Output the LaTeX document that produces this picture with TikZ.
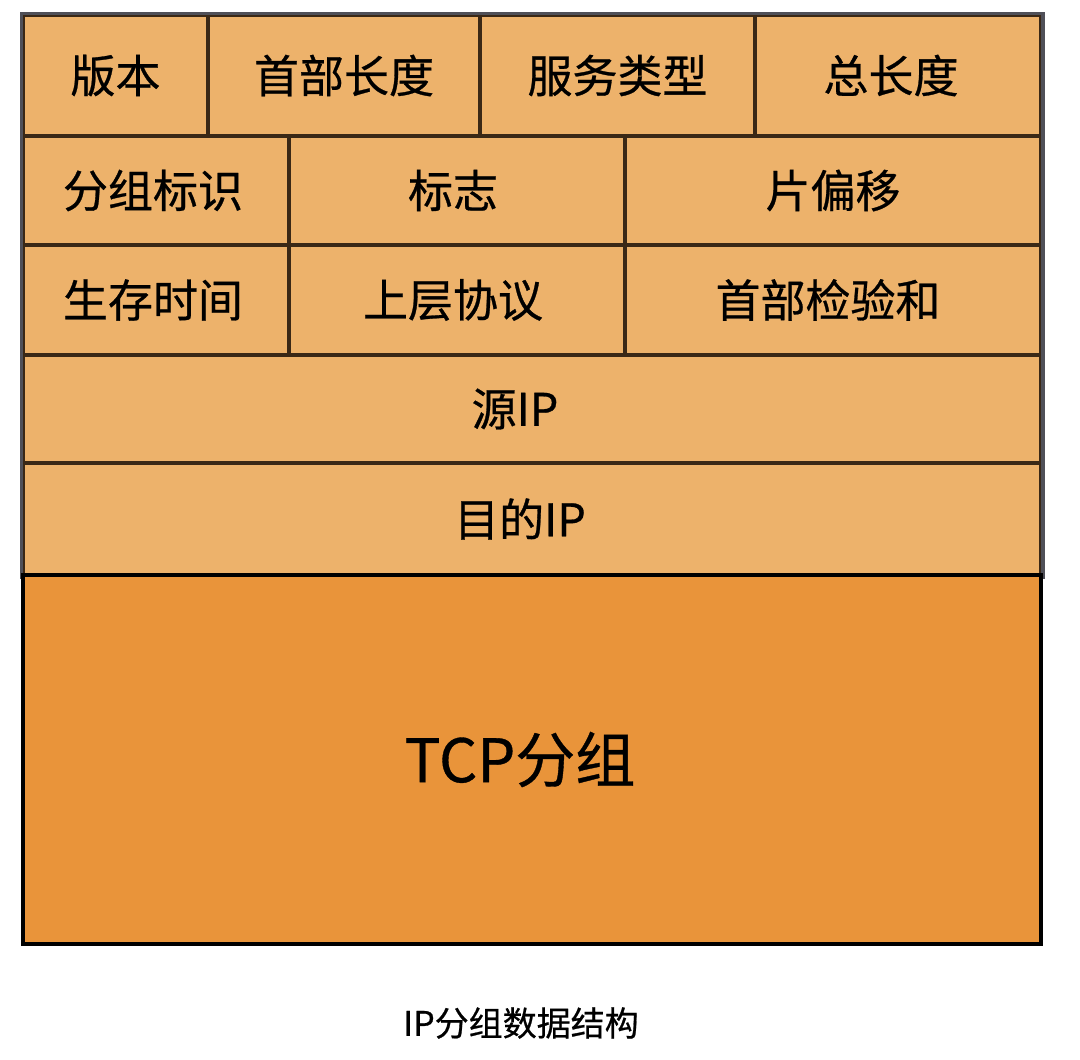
\documentclass[tikz,border=0pt]{standalone}
\usepackage{fontspec}
\setmainfont[FakeBold=0.6]{Noto Sans CJK SC}
\definecolor{hdr}{RGB}{237,178,107}
\definecolor{tcpc}{RGB}{233,148,58}
\definecolor{linec}{RGB}{58,40,22}
\definecolor{outerc}{RGB}{80,80,88}
\newcommand{\shiftl}[2]{\hspace*{-#1pt}#2}
\begin{document}
\begin{tikzpicture}[x=1pt,y=-1pt,
  cell/.style={draw=linec,line width=3.5pt,fill=hdr,inner sep=0pt,
    font=\fontsize{45}{50}\selectfont,text=black},
  tcpbox/.style={draw=black,line width=4pt,fill=tcpc,inner sep=0pt,
    font=\fontsize{60}{66}\selectfont,text=black},
  caption/.style={inner sep=0pt,font=\fontsize{34}{40}\selectfont,text=black}]
\useasboundingbox (0,0) rectangle (1080,1060);
% row 1
\node[cell,minimum width=185pt,minimum height=121pt] (ver) at (115.5,75.5) {版本};
\node[cell,minimum width=272pt,minimum height=121pt] (hlen) at (344,75.5) {首部长度};
\node[cell,minimum width=275pt,minimum height=121pt] (tos) at (617.5,75.5) {服务类型};
\node[cell,minimum width=286pt,minimum height=121pt] (tlen) at (898,75.5) {\shiftl{14}{总长度}};
% row 2
\node[cell,minimum width=266pt,minimum height=109pt] (id) at (156,190.5) {\shiftl{6}{分组标识}};
\node[cell,minimum width=336pt,minimum height=109pt] (flag) at (457,190.5) {\shiftl{8}{标志}};
\node[cell,minimum width=416pt,minimum height=109pt] (frag) at (833,190.5) {片偏移};
% row 3
\node[cell,minimum width=266pt,minimum height=110pt] (ttl) at (156,300) {\shiftl{6}{生存时间}};
\node[cell,minimum width=336pt,minimum height=110pt] (proto) at (457,300) {\shiftl{8}{上层协议}};
\node[cell,minimum width=416pt,minimum height=110pt] (csum) at (833,300) {\shiftl{10}{首部检验和}};
% rows 4,5
\node[cell,minimum width=1018pt,minimum height=108pt] (src) at (532,409) {\shiftl{34}{源IP}};
\node[cell,minimum width=1018pt,minimum height=112pt] (dst) at (532,519) {\shiftl{24}{目的IP}};
% outer border of header
\draw[outerc,line width=3.5pt] (ver.north west) rectangle (dst.south east);
% TCP payload
\node[tcpbox,minimum width=1018pt,minimum height=369pt] (tcp) at (532,759.5) {\shiftl{24}{TCP分组}};
% caption
\node[caption] (cap) at (521,1023) {IP分组数据结构};
\end{tikzpicture}
\end{document}
